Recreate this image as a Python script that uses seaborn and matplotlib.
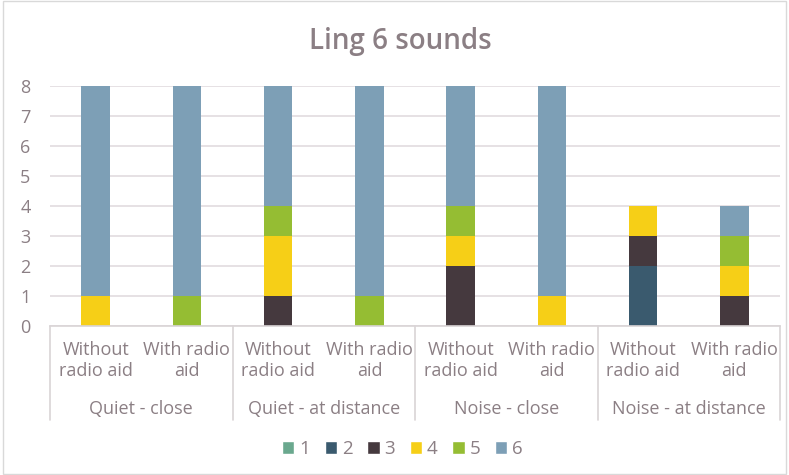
import matplotlib
matplotlib.use("Agg")
import matplotlib.pyplot as plt
import seaborn as sns
import pandas as pd
from matplotlib.patches import Patch, Rectangle

# data
bars = ["Without\nradio aid", "With radio\naid"] * 4
groups = ["Quiet - close", "Quiet - at distance", "Noise - close", "Noise - at distance"]
series = ["1", "2", "3", "4", "5", "6"]
s1 = [0, 0, 0, 0, 0, 0, 0, 0]
s2 = [0, 0, 0, 0, 0, 0, 2, 0]
s3 = [0, 0, 1, 0, 2, 0, 1, 1]
s4 = [1, 0, 2, 0, 1, 1, 1, 1]
s5 = [0, 1, 1, 1, 1, 0, 0, 1]
s6 = [7, 7, 4, 7, 4, 7, 0, 1]
colors = ["#6aa88e", "#3a5a6e", "#45393e", "#f6cf17", "#95bd33", "#7d9fb6"]

txt = "#8b7f84"
sns.set_style("white")
plt.rcParams["font.family"] = ["Open Sans", "DejaVu Sans"]

ids = [f"b{i}" for i in range(8)]
df = pd.DataFrame({"bar": ids, "1": s1, "2": s2, "3": s3, "4": s4, "5": s5, "6": s6})

fig = plt.figure(figsize=(7.89, 4.75), dpi=100)
ax = fig.add_axes([50 / 789, 1 - 326 / 475, 730 / 789, 240 / 475])

bottom = [0] * 8
for s, c in zip(series, colors):
    sns.barplot(data=df, x="bar", y=s, order=ids, color=c, width=0.31,
                bottom=bottom, linewidth=0, ax=ax, saturation=1)
    bottom = [b + v for b, v in zip(bottom, df[s])]

ax.set_xlim(-0.5, 7.5)
ax.set_ylim(0, 8)
ax.set_yticks(range(9))
ax.yaxis.grid(True, color="#e2dcdf", linewidth=1.2)
ax.set_axisbelow(True)
for sp in ["left", "right", "top"]:
    ax.spines[sp].set_visible(False)
ax.spines["bottom"].set_color("#d9d4d6")
ax.spines["bottom"].set_linewidth(1.2)
ax.set_xlabel("")
ax.set_ylabel("")
ax.set_xticks(range(8))
ax.set_xticklabels(bars)
ax.tick_params(axis="x", length=0, pad=11, labelsize=13, labelcolor=txt)
ax.tick_params(axis="y", length=0, pad=14, labelsize=13, labelcolor=txt)
for lab in ax.get_xticklabels():
    lab.set_linespacing(1.22)

tr = ax.get_xaxis_transform()
for xd in [-0.5, 1.5, 3.5, 5.5, 7.5]:
    ax.plot([xd, xd], [0, -0.39], transform=tr, clip_on=False, color="#d9d4d6", lw=1.2)
for i, g in enumerate(groups):
    ax.text(2 * i + 0.5, -0.345, g, transform=tr, ha="center", va="center",
            fontsize=13, color=txt)

fig.text(0.507, 1 - 42 / 475, "Ling 6 sounds", ha="center", va="center",
         fontsize=20, color=txt, fontweight="semibold")

handles = [Patch(facecolor=c, label=s) for s, c in zip(series, colors)]
fig.legend(handles=handles, loc="center", bbox_to_anchor=(0.51, 1 - 449 / 475),
           ncol=6, frameon=False, handlelength=0.65, handleheight=0.65,
           handletextpad=0.25, columnspacing=0.8, fontsize=13.5, labelcolor=txt)

fig.patches.append(Rectangle((3 / 789, 0.002), 783 / 789, 0.996, transform=fig.transFigure,
                             fill=False, edgecolor="#d9d9d9", lw=1))

fig.savefig("out.png", dpi=100)
